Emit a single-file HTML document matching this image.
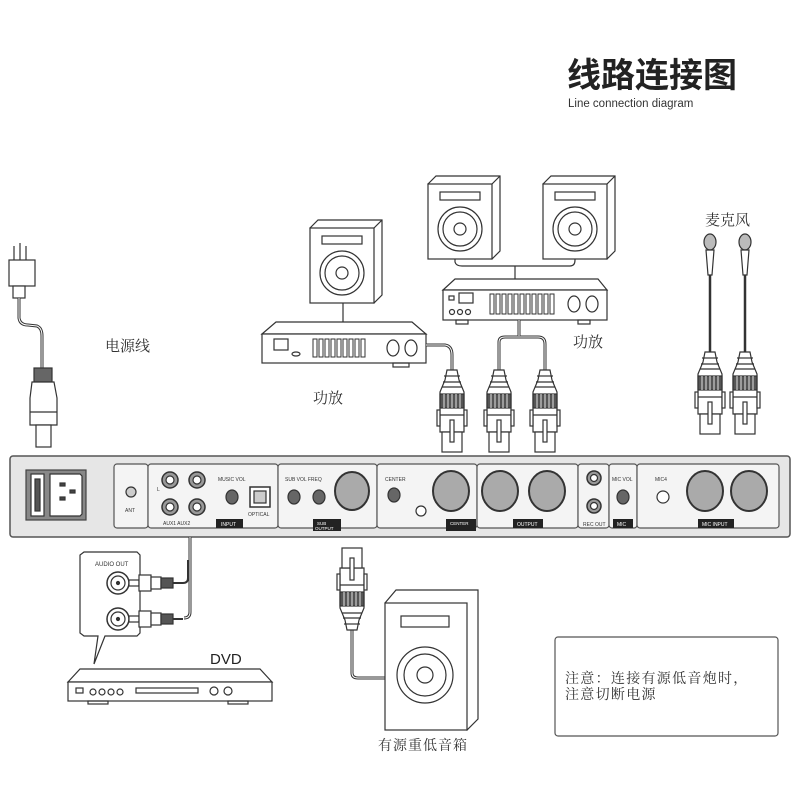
<!DOCTYPE html>
<html><head><meta charset="utf-8"><style>
html,body{margin:0;padding:0;background:#fff;}
svg{display:block;}
text{font-family:"Liberation Sans","Noto Sans CJK SC",sans-serif;}
.s{font-family:"Noto Serif CJK SC","Noto Sans CJK SC",serif;}
</style></head><body>
<svg width="800" height="800" viewBox="0 0 800 800" xmlns="http://www.w3.org/2000/svg" fill="none" stroke="#333" stroke-width="1.2">
<defs>
<g id="xlr">
 <path d="M-5,0 L5,0 L7,10 L12,22 L12,62 L-12,62 L-12,22 L-7,10 Z" fill="#fff"/>
 <line x1="-8" y1="6" x2="8" y2="6"/><line x1="-9" y1="12" x2="9" y2="12"/><line x1="-10" y1="17" x2="10" y2="17"/>
 <rect x="-12" y="24" width="24" height="14" fill="#555"/>
 <line x1="-8" y1="24" x2="-8" y2="38" stroke="#ccc"/><line x1="-4" y1="24" x2="-4" y2="38" stroke="#ccc"/><line x1="0" y1="24" x2="0" y2="38" stroke="#ccc"/><line x1="4" y1="24" x2="4" y2="38" stroke="#ccc"/><line x1="8" y1="24" x2="8" y2="38" stroke="#ccc"/>
 <rect x="-15" y="40" width="3" height="16" fill="#fff"/><rect x="12" y="40" width="3" height="16" fill="#fff"/>
 <line x1="-12" y1="45" x2="12" y2="45"/>
 <rect x="-10" y="62" width="20" height="20" fill="#fff"/>
 <rect x="-2" y="50" width="4" height="22" fill="#fff"/>
</g>
<g id="spk">
 <path d="M0,8 L8,0 L72,0 L72,75 L64,83 Z" fill="#fff"/>
 <rect x="0" y="8" width="64" height="75" fill="#fff"/>
 <path d="M64,8 L72,0"/>
 <rect x="12" y="16" width="40" height="8"/>
 <circle cx="32" cy="53" r="22"/><circle cx="32" cy="53" r="17"/><circle cx="32" cy="53" r="6"/>
</g>
</defs>

<text x="567" y="87" font-size="34" font-weight="bold" fill="#222" stroke="none" font-family="Noto Sans CJK SC,sans-serif">线路连接图</text>
<text x="568" y="107" font-size="11.5" fill="#333" stroke="none">Line connection diagram</text>

<g>
 <line x1="14" y1="246" x2="14" y2="260"/><line x1="20" y1="243" x2="20" y2="260"/><line x1="26" y1="246" x2="26" y2="260"/>
 <rect x="9" y="260" width="26" height="26" fill="#fff"/>
 <rect x="13" y="286" width="12" height="12" fill="#fff"/>
 <path d="M19,298 L19,318 Q20,325 28,325 L37,326 Q42,328 42,336 L42,370" stroke-width="3"/>
 <path d="M19,298 L19,318 Q20,325 28,325 L37,326 Q42,328 42,336 L42,370" stroke="#fff" stroke-width="1"/>
 <rect x="34" y="368" width="18" height="14" fill="#666"/>
 <path d="M32,382 L54,382 L57,398 L57,425 L30,425 L30,398 Z" fill="#fff"/>
 <line x1="30" y1="412" x2="57" y2="412"/>
 <rect x="36" y="425" width="15" height="22" fill="#fff"/>
</g>
<text x="105" y="351" font-size="15" fill="#333" stroke="none" class="s">电源线</text>

<use href="#spk" x="310" y="220"/>
<line x1="343" y1="303" x2="343" y2="322"/>
<g>
 <path d="M262,334 L276,322 L412,322 L426,334 Z" fill="#fff"/>
 <rect x="262" y="334" width="164" height="29" fill="#fff"/>
 <rect x="274" y="339" width="14" height="11"/><ellipse cx="296" cy="354" rx="4" ry="2"/>
 <g stroke-width="1"><rect x="313" y="339" width="4" height="18"/><rect x="319" y="339" width="4" height="18"/><rect x="325" y="339" width="4" height="18"/><rect x="331" y="339" width="4" height="18"/><rect x="337" y="339" width="4" height="18"/><rect x="343" y="339" width="4" height="18"/><rect x="349" y="339" width="4" height="18"/><rect x="355" y="339" width="4" height="18"/><rect x="361" y="339" width="4" height="18"/></g>
 <ellipse cx="393" cy="348" rx="6" ry="8"/><ellipse cx="411" cy="348" rx="6" ry="8"/>
 <rect x="393" y="363" width="16" height="4"/>
 <path d="M426,345 L445,345 Q452,346 452,355 L452,370" stroke-width="3"/>
 <path d="M426,345 L445,345 Q452,346 452,355 L452,370" stroke="#fff" stroke-width="1"/>
</g>
<text x="313" y="403" font-size="15" fill="#333" stroke="none" class="s">功放</text>

<use href="#spk" x="428" y="176"/>
<use href="#spk" x="543" y="176"/>
<path d="M455,259 L455,262 Q456,266 462,266 L570,266 Q575,266 575,260 L575,259"/>
<line x1="515" y1="266" x2="515" y2="279"/>
<g>
 <path d="M443,290 L455,279 L598,279 L607,290 Z" fill="#fff"/>
 <rect x="443" y="290" width="164" height="30" fill="#fff"/>
 <rect x="449" y="296" width="5" height="4"/><rect x="459" y="293" width="14" height="10"/>
 <circle cx="452" cy="312" r="2.5"/><circle cx="460" cy="312" r="2.5"/><circle cx="468" cy="312" r="2.5"/>
 <g stroke-width="1"><rect x="490" y="294" width="4" height="20"/><rect x="496" y="294" width="4" height="20"/><rect x="502" y="294" width="4" height="20"/><rect x="508" y="294" width="4" height="20"/><rect x="514" y="294" width="4" height="20"/><rect x="520" y="294" width="4" height="20"/><rect x="526" y="294" width="4" height="20"/><rect x="532" y="294" width="4" height="20"/><rect x="538" y="294" width="4" height="20"/><rect x="544" y="294" width="4" height="20"/><rect x="550" y="294" width="4" height="20"/></g>
 <ellipse cx="574" cy="304" rx="6" ry="8"/><ellipse cx="592" cy="304" rx="6" ry="8"/>
 <rect x="456" y="320" width="12" height="4"/><rect x="578" y="320" width="12" height="4"/>
 <path d="M519,320 L519,336 M499,370 L499,342 Q499,337 505,337 L538,337 Q545,337 545,344 L545,370" stroke-width="3"/>
 <path d="M519,320 L519,336 M499,370 L499,342 Q499,337 505,337 L538,337 Q545,337 545,344 L545,370" stroke="#fff" stroke-width="1"/>
</g>
<text x="573" y="347" font-size="15" fill="#333" stroke="none" class="s">功放</text>
<use href="#xlr" x="452" y="370"/>
<use href="#xlr" x="499" y="370"/>
<use href="#xlr" x="545" y="370"/>

<text x="705" y="225" font-size="15" fill="#333" stroke="none" class="s">麦克风</text>
<g>
 <ellipse cx="710" cy="242" rx="6" ry="8" fill="#bbb"/><path d="M706,250 L714,250 L712,275 L708,275 Z" fill="#fff"/>
 <line x1="710" y1="275" x2="710" y2="352" stroke-width="2.5"/>
 <ellipse cx="745" cy="242" rx="6" ry="8" fill="#bbb"/><path d="M741,250 L749,250 L747,275 L743,275 Z" fill="#fff"/>
 <line x1="745" y1="275" x2="745" y2="352" stroke-width="2.5"/>
</g>
<use href="#xlr" x="710" y="352"/>
<use href="#xlr" x="745" y="352"/>

<rect x="10" y="456" width="780" height="81" rx="3" fill="#e6e6e6" stroke="#555" stroke-width="1.5"/>
<rect x="26" y="470" width="60" height="50" fill="#888" stroke="#444"/>
<rect x="31" y="474" width="13" height="42" fill="#fff"/><rect x="35" y="479" width="5" height="32" fill="#555"/>
<path d="M50,474 L80,474 L82,476 L82,514 L80,516 L50,516 Z" fill="#fff"/>
<rect x="60" y="483" width="5" height="3" fill="#444"/><rect x="70" y="490" width="5" height="3" fill="#444"/><rect x="60" y="497" width="5" height="3" fill="#444"/>
<g fill="#f4f4f4" stroke="#555">
 <rect x="114" y="464" width="34" height="64" rx="3"/>
 <rect x="148" y="464" width="130" height="64" rx="3"/>
 <rect x="278" y="464" width="99" height="64" rx="3"/>
 <rect x="377" y="464" width="100" height="64" rx="3"/>
 <rect x="477" y="464" width="101" height="64" rx="3"/>
 <rect x="578" y="464" width="31" height="64" rx="3"/>
 <rect x="609" y="464" width="28" height="64" rx="3"/>
 <rect x="637" y="464" width="142" height="64" rx="3"/>
</g>
<circle cx="131" cy="492" r="5" fill="#ccc"/>
<text x="125" y="512" font-size="5" fill="#333" stroke="none">ANT</text>
<g fill="#999" stroke="#333" stroke-width="1.5">
 <circle cx="170" cy="480" r="8"/><circle cx="197" cy="480" r="8"/><circle cx="170" cy="507" r="8"/><circle cx="197" cy="507" r="8"/>
</g>
<g fill="#fff"><circle cx="170" cy="480" r="4"/><circle cx="197" cy="480" r="4"/><circle cx="170" cy="507" r="4"/><circle cx="197" cy="507" r="4"/></g>
<text x="218" y="481" font-size="5" fill="#333" stroke="none">MUSIC VOL</text>
<ellipse cx="232" cy="497" rx="6" ry="7" fill="#666"/>
<rect x="250" y="487" width="20" height="20" fill="#fff" stroke-width="1.5"/><rect x="254" y="491" width="12" height="12" fill="#ccc"/>
<text x="248" y="516" font-size="5" fill="#333" stroke="none">OPTICAL</text>
<text x="163" y="525" font-size="5" fill="#333" stroke="none">AUX1   AUX2</text>
<text x="157" y="491" font-size="5" fill="#333" stroke="none">L</text>
<rect x="216" y="519" width="27" height="9" fill="#222" stroke="none"/><text x="221" y="526" font-size="5" fill="#fff" stroke="none">INPUT</text>
<text x="285" y="481" font-size="5" fill="#333" stroke="none">SUB VOL   FREQ</text>
<ellipse cx="294" cy="497" rx="6" ry="7" fill="#666"/><ellipse cx="319" cy="497" rx="6" ry="7" fill="#666"/>
<ellipse cx="352" cy="491" rx="17" ry="19" fill="#aaa" stroke-width="2"/>
<rect x="313" y="519" width="28" height="12" fill="#222" stroke="none"/><text x="317" y="525" font-size="4.5" fill="#fff" stroke="none">SUB</text><text x="315" y="530" font-size="4.5" fill="#fff" stroke="none">OUTPUT</text>
<text x="385" y="481" font-size="5" fill="#333" stroke="none">CENTER</text>
<ellipse cx="394" cy="495" rx="6" ry="7" fill="#666"/>
<circle cx="421" cy="511" r="5" fill="#fff"/>
<ellipse cx="451" cy="491" rx="18" ry="20" fill="#aaa" stroke-width="2"/>
<rect x="446" y="519" width="30" height="12" fill="#222" stroke="none"/><text x="450" y="525" font-size="4.5" fill="#fff" stroke="none">CENTER</text>
<ellipse cx="500" cy="491" rx="18" ry="20" fill="#aaa" stroke-width="2"/><ellipse cx="547" cy="491" rx="18" ry="20" fill="#aaa" stroke-width="2"/>
<rect x="513" y="519" width="30" height="9" fill="#222" stroke="none"/><text x="517" y="526" font-size="5" fill="#fff" stroke="none">OUTPUT</text>
<circle cx="594" cy="478" r="7" fill="#999" stroke-width="1.5"/><circle cx="594" cy="478" r="3.5" fill="#fff"/>
<circle cx="594" cy="506" r="7" fill="#999" stroke-width="1.5"/><circle cx="594" cy="506" r="3.5" fill="#fff"/>
<text x="583" y="526" font-size="5" fill="#333" stroke="none">REC OUT</text>
<text x="612" y="481" font-size="5" fill="#333" stroke="none">MIC VOL</text>
<ellipse cx="623" cy="497" rx="6" ry="7" fill="#666"/>
<rect x="613" y="519" width="20" height="9" fill="#222" stroke="none"/><text x="617" y="526" font-size="5" fill="#fff" stroke="none">MIC</text>
<text x="655" y="481" font-size="5" fill="#333" stroke="none">MIC4</text>
<circle cx="663" cy="497" r="6" fill="#fff"/>
<ellipse cx="705" cy="491" rx="18" ry="20" fill="#aaa" stroke-width="2"/><ellipse cx="749" cy="491" rx="18" ry="20" fill="#aaa" stroke-width="2"/>
<rect x="698" y="519" width="36" height="9" fill="#222" stroke="none"/><text x="702" y="526" font-size="5" fill="#fff" stroke="none">MIC INPUT</text>

<path d="M190,537 L190,612 Q190,618 184,618" stroke-width="3"/>
<path d="M190,537 L190,612 Q190,618 184,618" stroke="#fff" stroke-width="1"/>
<path d="M84,552 L137,552 L140,555 L140,633 L137,636 L105,636 L94,664 L98,636 L84,636 L80,633 L80,555 Z" fill="#fff"/>
<text x="95" y="566" font-size="6" fill="#333" stroke="none">AUDIO OUT</text>
<circle cx="118" cy="583" r="11" fill="#fff" stroke-width="1.5"/><circle cx="118" cy="583" r="7"/><circle cx="118" cy="583" r="1.5" fill="#333"/>
<circle cx="118" cy="619" r="11" fill="#fff" stroke-width="1.5"/><circle cx="118" cy="619" r="7"/><circle cx="118" cy="619" r="1.5" fill="#333"/>
<g fill="#fff">
 <rect x="129" y="580" width="10" height="6"/><rect x="139" y="575" width="12" height="16"/><rect x="151" y="577" width="10" height="12"/><rect x="161" y="578" width="12" height="10" fill="#555"/>
 <rect x="129" y="616" width="10" height="6"/><rect x="139" y="611" width="12" height="16"/><rect x="151" y="613" width="10" height="12"/><rect x="161" y="614" width="12" height="10" fill="#555"/>
</g>
<path d="M173,583 L183,583 Q188,583 188,578 L188,560 M173,619 L183,619" stroke-width="2"/>
<text x="210" y="664" font-size="15" fill="#222" stroke="none">DVD</text>
<path d="M68,682 L80,669 L260,669 L272,682 Z" fill="#fff"/>
<rect x="68" y="682" width="204" height="19" fill="#fff"/>
<rect x="76" y="688" width="7" height="5"/>
<circle cx="93" cy="692" r="3"/><circle cx="102" cy="692" r="3"/><circle cx="111" cy="692" r="3"/><circle cx="120" cy="692" r="3"/>
<rect x="136" y="688" width="62" height="5"/>
<circle cx="214" cy="691" r="4"/><circle cx="228" cy="691" r="4"/>
<rect x="88" y="701" width="20" height="3"/><rect x="228" y="701" width="20" height="3"/>

<!-- subwoofer -->
<path d="M352,630 L352,673 Q352,678 358,678 L385,678" stroke-width="3"/>
<path d="M352,630 L352,673 Q352,678 358,678 L385,678" stroke="#fff" stroke-width="1"/>
<g transform="translate(352,630) rotate(180)"><use href="#xlr" x="0" y="0"/></g>
<path d="M385,603 L396,590 L478,590 L478,719 L467,730 Z" fill="#fff"/>
<rect x="385" y="603" width="82" height="127" fill="#fff"/>
<rect x="401" y="616" width="48" height="11"/>
<circle cx="425" cy="675" r="28"/><circle cx="425" cy="675" r="21"/><circle cx="425" cy="675" r="8"/>
<text x="378" y="750" font-size="14" fill="#333" stroke="none" class="s" letter-spacing="1">有源重低音箱</text>

<rect x="555" y="637" width="223" height="99" rx="3" fill="#fff" stroke="#555"/>
<text x="565" y="683" font-size="14" fill="#333" stroke="none" class="s" letter-spacing="1.3">注意：连接有源低音炮时，</text>
<text x="565" y="699" font-size="14" fill="#333" stroke="none" class="s" letter-spacing="1.3">注意切断电源</text>
</svg>
</body></html>
